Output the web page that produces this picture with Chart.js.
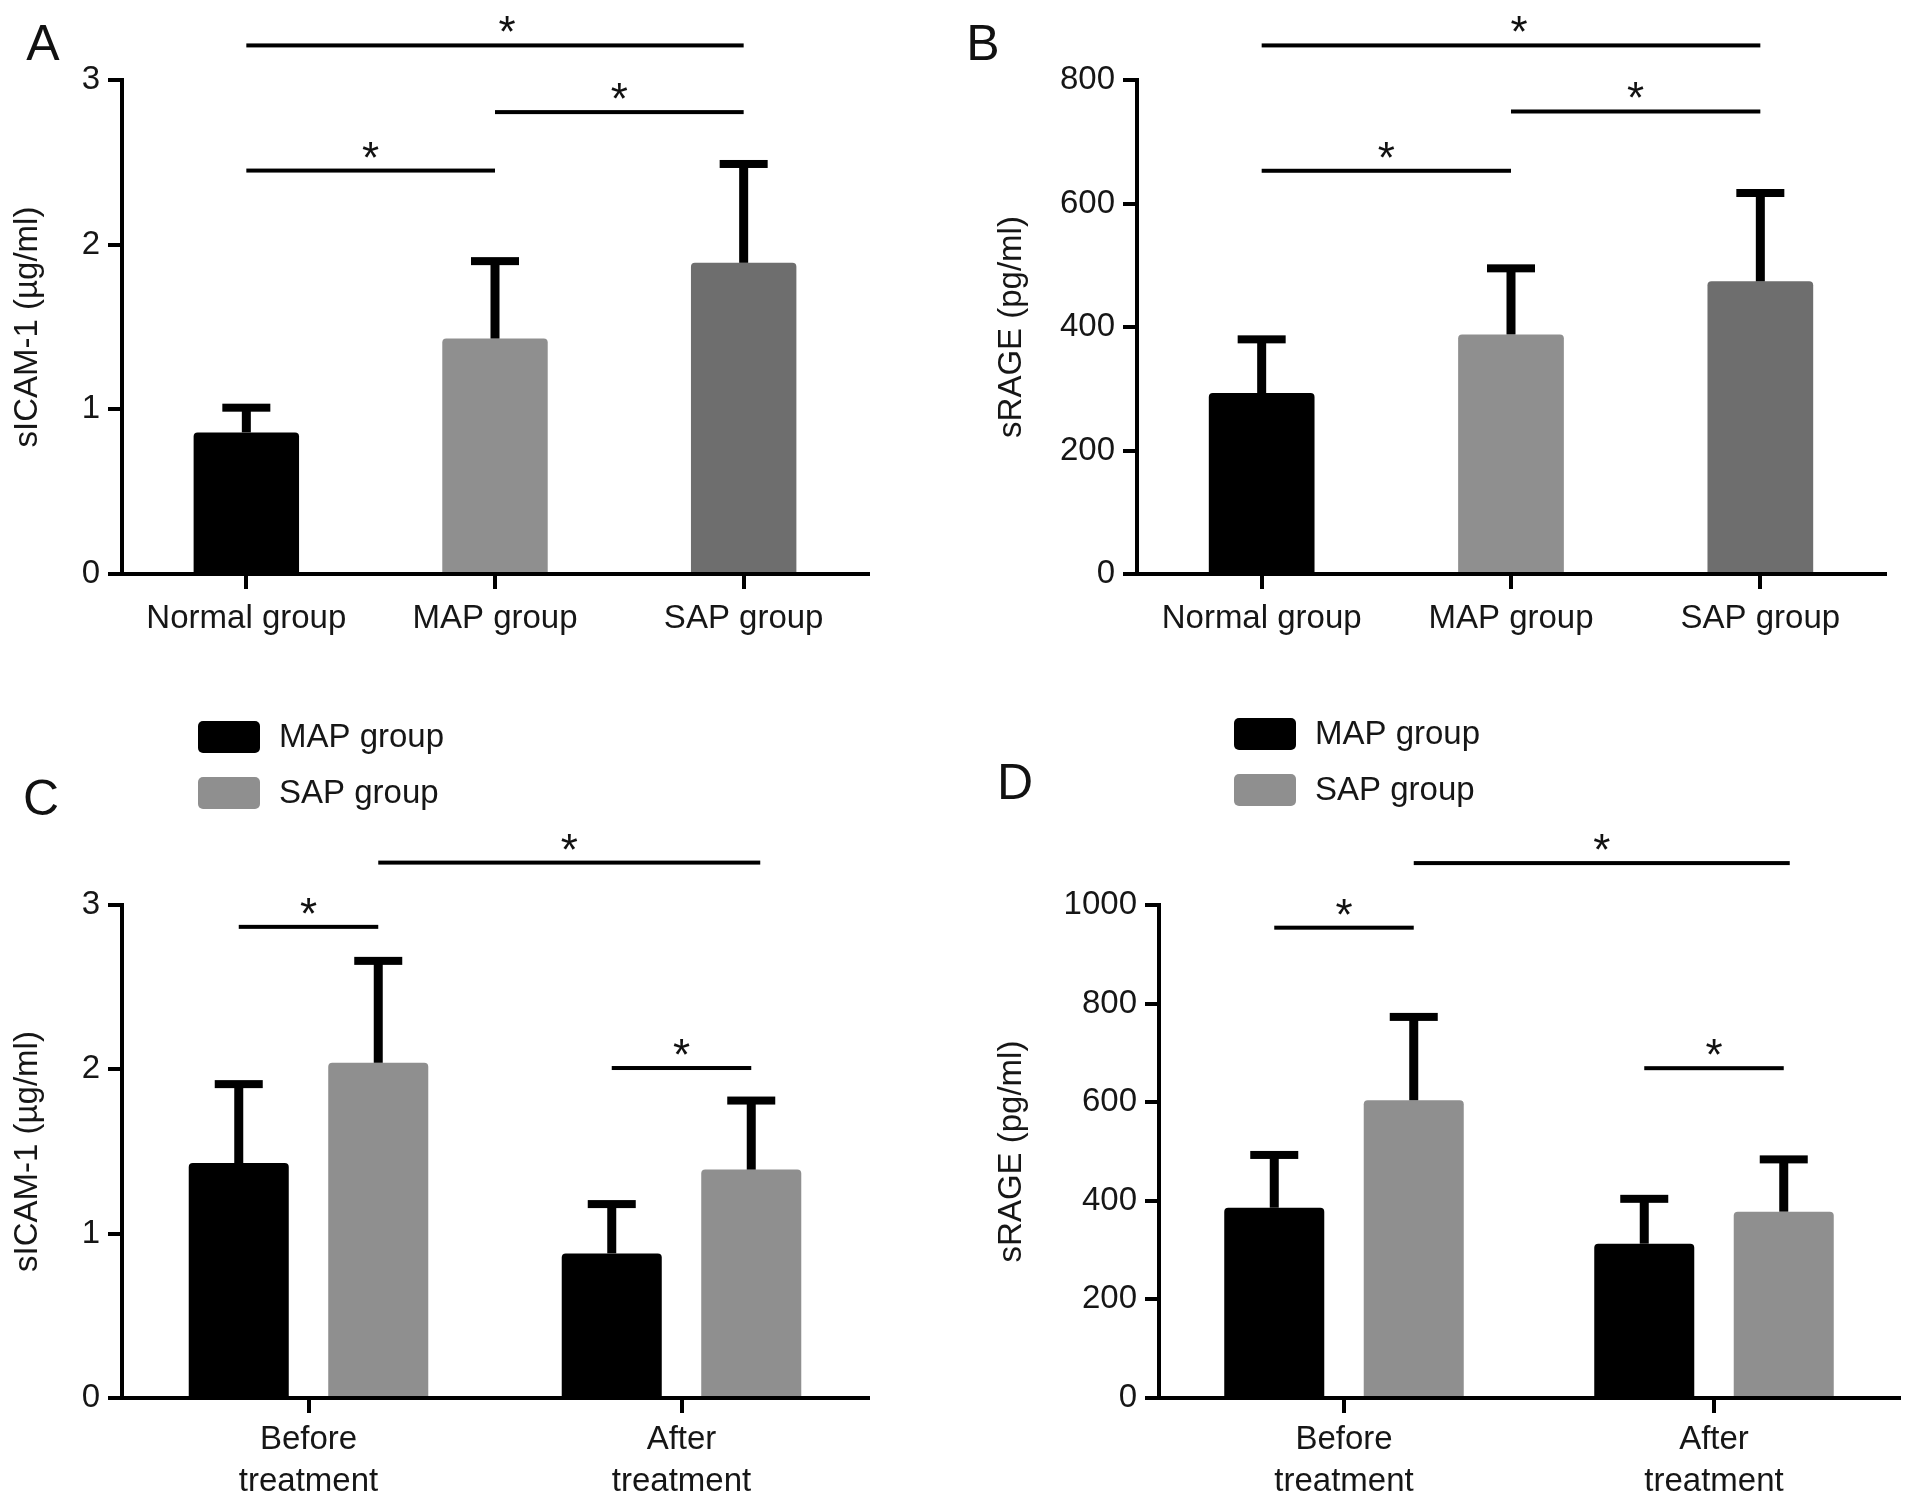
<!DOCTYPE html>
<html><head><meta charset="utf-8">
<script src="https://cdn.jsdelivr.net/npm/chart.js@4.4.0/dist/chart.umd.min.js"></script>
<style>
html,body{margin:0;padding:0;background:#fff;}
#wrap{position:relative;width:1913px;height:1503px;overflow:hidden;background:#fff;}
.box{position:absolute;}
</style></head><body><div id="wrap">
<div class="box" style="left:0;top:0;width:956px;height:700px"><canvas id="cA" width="956" height="700"></canvas></div>
<div class="box" style="left:956px;top:0;width:957px;height:700px"><canvas id="cB" width="957" height="700"></canvas></div>
<div class="box" style="left:0;top:700px;width:956px;height:803px"><canvas id="cC" width="956" height="803"></canvas></div>
<div class="box" style="left:956px;top:700px;width:957px;height:803px"><canvas id="cD" width="957" height="803"></canvas></div>
</div>
<script>
// ---- data ----
const groupLabels = ['Normal group', 'MAP group', 'SAP group'];
const sicamMean = [0.86, 1.43, 1.89];
const sicamSD = [0.15, 0.47, 0.60];
const srageMean = [293, 388, 474];
const srageSD = [87, 107, 143];

const timeLabels = [['Before', 'treatment'], ['After', 'treatment']];
const seriesNames = ['MAP group', 'SAP group'];
const sicamMAPMean = [1.43, 0.88];
const sicamMAPSD = [0.48, 0.30];
const sicamSAPMean = [2.04, 1.39];
const sicamSAPSD = [0.62, 0.42];
const srageMAPMean = [386, 313];
const srageMAPSD = [107, 91];
const srageSAPMean = [604, 378];
const srageSAPSD = [169, 106];

const ticksSicam = [0, 1, 2, 3];
const ticksSrageB = [0, 200, 400, 600, 800];
const ticksSrageD = [0, 200, 400, 600, 800, 1000];

// ---- style ----
const FONT = '"Liberation Sans", Arial, Helvetica, sans-serif';
const TXT = '#161616';
const BLACK = '#000000';
const GRAY = '#8f8f8f';
const DARK = '#6e6e6e';

const extras = {
  id: 'extras',
  afterDatasetsDraw(chart, args, o) {
    const ctx = chart.ctx, ys = chart.scales.y;
    ctx.save();
    ctx.fillStyle = '#000';
    chart.data.datasets.forEach((ds, di) => {
      if (!ds.errors) return;
      chart.getDatasetMeta(di).data.forEach((bar, i) => {
        const top = ys.getPixelForValue(ds.data[i] + ds.errors[i]);
        const base = ys.getPixelForValue(ds.data[i]);
        ctx.fillRect(bar.x - 4.5, top, 9, base - top);
        ctx.fillRect(bar.x - 24, top - 4, 48, 8);
      });
    });
    ctx.restore();
  },
  afterDraw(chart, args, o) {
    const ctx = chart.ctx, ys = chart.scales.y;
    ctx.save();
    // significance brackets
    (o.brackets || []).forEach(b => {
      const x1 = chart.getDatasetMeta(b.from[0]).data[b.from[1]].x;
      const x2 = chart.getDatasetMeta(b.to[0]).data[b.to[1]].x + (b.extend || 0);
      const y = ys.getPixelForValue(b.value);
      ctx.fillStyle = '#000';
      ctx.fillRect(x1, y - 2, x2 - x1, 4);
      ctx.font = '44px ' + FONT;
      ctx.textAlign = 'center';
      ctx.textBaseline = 'alphabetic';
      ctx.fillStyle = '#111';
      ctx.fillText('*', (x1 + x2) / 2 + (b.starDx || 0), y + 2);
    });
    // panel letter
    if (o.letter) {
      ctx.font = '50px ' + FONT;
      ctx.fillStyle = '#111';
      ctx.textAlign = 'center';
      ctx.textBaseline = 'alphabetic';
      ctx.fillText(o.letter.text, o.letter.x, o.letter.y);
    }
    // legend
    if (o.legend) {
      const L = o.legend;
      chart.data.datasets.forEach((ds, i) => {
        const by = L.y + i * 56;
        ctx.fillStyle = ds.backgroundColor;
        ctx.beginPath();
        ctx.roundRect(L.x, by, 62, 32, 5);
        ctx.fill();
        ctx.fillStyle = TXT;
        ctx.font = '33px ' + FONT;
        ctx.textAlign = 'left';
        ctx.textBaseline = 'middle';
        ctx.fillText(ds.label, L.x + 81, by + 17);
      });
    }
    ctx.restore();
  }
};

function makeChart(id, cfg) {
  const W = cfg.W, H = cfg.H;
  return new Chart(document.getElementById(id), {
    type: 'bar',
    data: { labels: cfg.labels, datasets: cfg.datasets },
    plugins: [extras],
    options: {
      responsive: false,
      animation: false,
      devicePixelRatio: 1,
      layout: { padding: { left: 0, top: cfg.top, right: W - cfg.right, bottom: H - cfg.bottom - 100 } },
      plugins: {
        legend: { display: false },
        tooltip: { enabled: false },
        extras: { brackets: cfg.brackets, letter: cfg.letter, legend: cfg.legend }
      },
      datasets: { bar: { categoryPercentage: cfg.catPct, barPercentage: cfg.barPct } },
      scales: {
        x: {
          z: 1,
          afterFit: s => { s.height = 100; },
          border: { display: true, color: '#000', width: 4 },
          grid: { display: true, drawOnChartArea: false, drawTicks: true, tickLength: 15, lineWidth: 4, color: '#000', offset: false },
          ticks: { color: TXT, padding: cfg.xPad, font: { family: FONT, size: 33, lineHeight: 1.27 }, maxRotation: 0, autoSkip: false }
        },
        y: {
          z: 1,
          min: 0, max: cfg.ymax,
          afterFit: s => { s.width = cfg.left; },
          afterBuildTicks: s => { s.ticks = cfg.yticks.map(v => ({ value: v })); },
          border: { display: true, color: '#000', width: 4 },
          grid: { display: true, drawOnChartArea: false, drawTicks: true, tickLength: 14, lineWidth: 4, color: '#000' },
          ticks: { color: TXT, padding: 8, font: { family: FONT, size: 33 }, callback: v => String(v) },
          title: { display: true, text: cfg.ytitle, color: TXT, font: { family: FONT, size: 33, lineHeight: 1.2 }, padding: { top: cfg.titlePad, bottom: 0 } }
        }
      }
    }
  });
}

// A
makeChart('cA', {
  W: 956, H: 700, left: 122, right: 868, top: 80, bottom: 574, xPad: 9,
  labels: groupLabels, ymax: 3, yticks: ticksSicam, ytitle: 'sICAM-1 (µg/ml)', titlePad: 8,
  catPct: 1, barPct: 0.424,
  datasets: [{ data: sicamMean, errors: sicamSD, backgroundColor: [BLACK, GRAY, DARK], borderRadius: 4 }],
  brackets: [
    { from: [0, 0], to: [0, 2], value: 3.21, starDx: 12 },
    { from: [0, 1], to: [0, 2], value: 2.805 },
    { from: [0, 0], to: [0, 1], value: 2.45 }
  ],
  letter: { text: 'A', x: 43, y: 60 }
});
// B
makeChart('cB', {
  W: 957, H: 700, left: 181, right: 929, top: 80, bottom: 574, xPad: 9,
  labels: groupLabels, ymax: 800, yticks: ticksSrageB, ytitle: 'sRAGE (pg/ml)', titlePad: 36,
  catPct: 1, barPct: 0.424,
  datasets: [{ data: srageMean, errors: srageSD, backgroundColor: [BLACK, GRAY, DARK], borderRadius: 4 }],
  brackets: [
    { from: [0, 0], to: [0, 2], value: 856, starDx: 8 },
    { from: [0, 1], to: [0, 2], value: 749 },
    { from: [0, 0], to: [0, 1], value: 653 }
  ],
  letter: { text: 'B', x: 27, y: 60 }
});
// C
makeChart('cC', {
  W: 956, H: 803, left: 122, right: 868, top: 205, bottom: 698, xPad: 6,
  labels: timeLabels, ymax: 3, yticks: ticksSicam, ytitle: 'sICAM-1 (µg/ml)', titlePad: 8,
  catPct: 0.748, barPct: 0.717,
  datasets: [
    { label: seriesNames[0], data: sicamMAPMean, errors: sicamMAPSD, backgroundColor: BLACK, borderRadius: 4 },
    { label: seriesNames[1], data: sicamSAPMean, errors: sicamSAPSD, backgroundColor: GRAY, borderRadius: 4 }
  ],
  brackets: [
    { from: [0, 0], to: [1, 0], value: 2.867 },
    { from: [1, 0], to: [1, 1], value: 3.258, extend: 9 },
    { from: [0, 1], to: [1, 1], value: 2.008 }
  ],
  letter: { text: 'C', x: 41, y: 115 },
  legend: { x: 198, y: 21 }
});
// D
makeChart('cD', {
  W: 957, H: 803, left: 203, right: 943, top: 205, bottom: 698, xPad: 6,
  labels: timeLabels, ymax: 1000, yticks: ticksSrageD, ytitle: 'sRAGE (pg/ml)', titlePad: 36,
  catPct: 0.754, barPct: 0.717,
  datasets: [
    { label: seriesNames[0], data: srageMAPMean, errors: srageMAPSD, backgroundColor: BLACK, borderRadius: 4 },
    { label: seriesNames[1], data: srageSAPMean, errors: srageSAPSD, backgroundColor: GRAY, borderRadius: 4 }
  ],
  brackets: [
    { from: [0, 0], to: [1, 0], value: 954 },
    { from: [1, 0], to: [1, 1], value: 1085, extend: 6 },
    { from: [0, 1], to: [1, 1], value: 669 }
  ],
  letter: { text: 'D', x: 59, y: 99 },
  legend: { x: 278, y: 18 }
});
</script>
</body></html>
